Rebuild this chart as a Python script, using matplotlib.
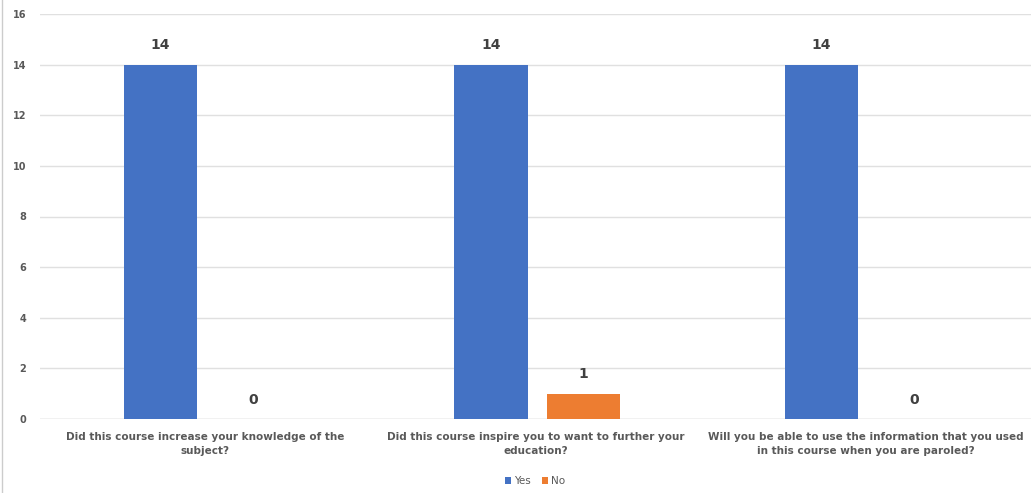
import matplotlib
matplotlib.use("Agg")
import matplotlib.pyplot as plt
import numpy as np
from matplotlib.lines import Line2D

categories = [
    "Did this course increase your knowledge of the\nsubject?",
    "Did this course inspire you to want to further your\neducation?",
    "Will you be able to use the information that you used\nin this course when you are paroled?",
]
yes_vals = [14, 14, 14]
no_vals = [0, 1, 0]
series_names = ["Yes", "No"]
yticks = [0, 2, 4, 6, 8, 10, 12, 14, 16]

blue = "#4472C4"
orange = "#ED7D31"
txt = "#595959"

fig = plt.figure(figsize=(10.31, 4.93), dpi=100)
ax = fig.add_axes([40/1031, 1 - 419/493, 991/1031, (419 - 14)/493])

x = np.arange(len(categories))
w = 0.222
off = 0.14
b1 = ax.bar(x - off + 0.005, yes_vals, w, color=blue, label=series_names[0], zorder=3)
b2 = ax.bar(x + off + 0.005, no_vals, w, color=orange, label=series_names[1], zorder=3)

for bars, vals in ((b1, yes_vals), (b2, no_vals)):
    for r, v in zip(bars, vals):
        ax.annotate(str(v), (r.get_x() + r.get_width() / 2, v), xytext=(0, 9),
                    textcoords="offset points", ha="center", va="bottom",
                    fontsize=10, fontweight="bold", color="#404040")

ax.set_xlim(-0.5, 2.5)
ax.set_ylim(0, 16)
ax.set_yticks(yticks)
ax.set_yticklabels([str(t) for t in yticks], fontsize=7, color=txt, fontweight="bold")
ax.tick_params(axis="y", length=0, pad=10)
ax.set_xticks(x)
ax.set_xticklabels(categories, fontsize=7.5, color=txt, fontweight="bold", linespacing=1.6)
ax.tick_params(axis="x", length=0, pad=9)
ax.grid(axis="y", color="#E0E0E0", linewidth=1, zorder=0)
for s in ax.spines.values():
    s.set_visible(False)
ax.axhline(0, color="#D9D9D9", linewidth=1, zorder=2)

leg = fig.legend(handles=[b1, b2], labels=series_names, loc="center",
                 bbox_to_anchor=(535/1031, 1 - 481/493), ncol=2, frameon=False,
                 fontsize=7.5, handlelength=0.6, handleheight=0.6, handletextpad=0.3,
                 columnspacing=1.0)
for t in leg.get_texts():
    t.set_color(txt)

fig.add_artist(Line2D([2/1031, 2/1031], [0, 1], transform=fig.transFigure,
                      color="#CCCCCC", linewidth=1))

fig.savefig("out.png", dpi=100)
